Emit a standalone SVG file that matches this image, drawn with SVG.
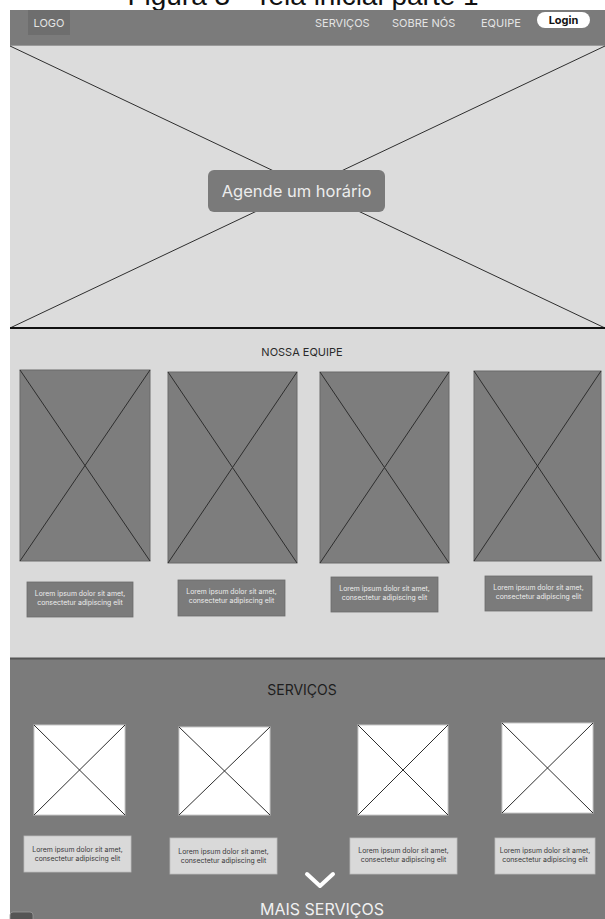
<svg xmlns="http://www.w3.org/2000/svg" width="605" height="919" viewBox="0 0 605 919">
  <style>
    .ui { font-family: Inter, "Liberation Sans", Arial, sans-serif; }
    .nav { fill: #e4e4e4; font-size: 11px; }
    .card { fill: #7d7d7d; stroke: #6a6a6a; stroke-width: 1; }
    .xline { stroke: #2e2e2e; stroke-width: 1; }
    .pic { fill: #ffffff; stroke: #c8c8c8; stroke-width: 1; }
    .cap-dark { fill: #7b7b7b; stroke: #6c6c6c; stroke-width: 0.8; }
    .cap-light { fill: #d9d9d9; stroke: #bdbdbd; stroke-width: 0.8; }
    .cap-txt { font-size: 6.9px; text-anchor: middle; }
  </style>

  <rect x="0" y="0" width="605" height="919" fill="#ffffff"/>

  <!-- page caption, running off the top edge -->
  <text x="303" y="5" font-family="'Liberation Sans', Arial, sans-serif" font-size="28" fill="#111" text-anchor="middle">Figura 3 - Tela inicial parte 1</text>

  <!-- navigation bar -->
  <g id="navbar" class="ui">
    <rect x="10" y="10" width="595" height="36" fill="#7b7b7b"/>
    <rect x="10" y="45" width="595" height="1.5" fill="#9a9a9a"/>
    <rect x="28" y="10" width="42" height="25" fill="#6e6e6e"/>
    <text x="49" y="27" class="nav" text-anchor="middle">LOGO</text>
    <text x="315" y="27" class="nav">SERVIÇOS</text>
    <text x="392" y="27" class="nav">SOBRE NÓS</text>
    <text x="481" y="27" class="nav">EQUIPE</text>
    <rect x="537" y="12" width="53" height="16" rx="8" fill="#ffffff"/>
    <text x="563.5" y="24" font-size="11" font-weight="700" fill="#111" text-anchor="middle">Login</text>
  </g>

  <!-- hero banner -->
  <g id="hero" class="ui">
    <rect x="10" y="46" width="595" height="282" fill="#dcdcdc"/>
    <line x1="10" y1="46" x2="605" y2="328" class="xline"/>
    <line x1="10" y1="328" x2="605" y2="46" class="xline"/>
    <rect x="10" y="327" width="595" height="2" fill="#111"/>
    <g id="btn-agendar">
      <rect x="208" y="170" width="177" height="42" rx="6" fill="#7a7a7a"/>
      <text x="296.5" y="197" font-size="16.5" fill="#ececec" text-anchor="middle">Agende um horário</text>
    </g>
  </g>

  <!-- team section -->
  <g id="equipe" class="ui">
    <rect x="10" y="329" width="595" height="329" fill="#dadada"/>
    <text x="302" y="356" font-size="11" fill="#2a2a2a" text-anchor="middle">NOSSA EQUIPE</text>

    <g id="membro-1">
      <rect x="20" y="370" width="130" height="191" class="card"/>
      <line x1="20" y1="370" x2="150" y2="561" class="xline"/>
      <line x1="20" y1="561" x2="150" y2="370" class="xline"/>
      <rect x="27" y="582" width="106" height="35" class="cap-dark"/>
      <text class="cap-txt" fill="#ececec"><tspan x="80" y="596">Lorem ipsum dolor sit amet,</tspan><tspan x="80" y="605">consectetur adipiscing elit</tspan></text>
    </g>
    <g id="membro-2">
      <rect x="168" y="372" width="129" height="191" class="card"/>
      <line x1="168" y1="372" x2="297" y2="563" class="xline"/>
      <line x1="168" y1="563" x2="297" y2="372" class="xline"/>
      <rect x="178" y="580" width="107" height="36" class="cap-dark"/>
      <text class="cap-txt" fill="#ececec"><tspan x="231.5" y="594">Lorem ipsum dolor sit amet,</tspan><tspan x="231.5" y="603">consectetur adipiscing elit</tspan></text>
    </g>
    <g id="membro-3">
      <rect x="320" y="372" width="129" height="191" class="card"/>
      <line x1="320" y1="372" x2="449" y2="563" class="xline"/>
      <line x1="320" y1="563" x2="449" y2="372" class="xline"/>
      <rect x="331" y="577" width="107" height="35" class="cap-dark"/>
      <text class="cap-txt" fill="#ececec"><tspan x="384.5" y="591">Lorem ipsum dolor sit amet,</tspan><tspan x="384.5" y="600">consectetur adipiscing elit</tspan></text>
    </g>
    <g id="membro-4">
      <rect x="474" y="371" width="127" height="190" class="card"/>
      <line x1="474" y1="371" x2="601" y2="561" class="xline"/>
      <line x1="474" y1="561" x2="601" y2="371" class="xline"/>
      <rect x="485" y="576" width="107" height="35" class="cap-dark"/>
      <text class="cap-txt" fill="#ececec"><tspan x="538.5" y="590">Lorem ipsum dolor sit amet,</tspan><tspan x="538.5" y="599">consectetur adipiscing elit</tspan></text>
    </g>
  </g>

  <!-- services section -->
  <g id="servicos" class="ui">
    <rect x="10" y="658" width="595" height="261" fill="#7b7b7b"/>
    <rect x="10" y="657.5" width="595" height="2" fill="#555555"/>
    <text x="302" y="695" font-size="14" fill="#1e1e1e" text-anchor="middle">SERVIÇOS</text>

    <g id="servico-1">
      <rect x="34" y="725" width="91" height="90" class="pic"/>
      <line x1="34" y1="725" x2="125" y2="815" class="xline"/>
      <line x1="34" y1="815" x2="125" y2="725" class="xline"/>
      <rect x="24" y="836" width="107" height="36" class="cap-light"/>
      <text class="cap-txt" fill="#3a3a3a"><tspan x="77.5" y="852">Lorem ipsum dolor sit amet,</tspan><tspan x="77.5" y="861">consectetur adipiscing elit</tspan></text>
    </g>
    <g id="servico-2">
      <rect x="179" y="727" width="91" height="88" class="pic"/>
      <line x1="179" y1="727" x2="270" y2="815" class="xline"/>
      <line x1="179" y1="815" x2="270" y2="727" class="xline"/>
      <rect x="170" y="838" width="107" height="36" class="cap-light"/>
      <text class="cap-txt" fill="#3a3a3a"><tspan x="223.5" y="854">Lorem ipsum dolor sit amet,</tspan><tspan x="223.5" y="863">consectetur adipiscing elit</tspan></text>
    </g>
    <g id="servico-3">
      <rect x="358" y="725" width="90" height="90" class="pic"/>
      <line x1="358" y1="725" x2="448" y2="815" class="xline"/>
      <line x1="358" y1="815" x2="448" y2="725" class="xline"/>
      <rect x="350" y="838" width="107" height="36" class="cap-light"/>
      <text class="cap-txt" fill="#3a3a3a"><tspan x="403.5" y="853">Lorem ipsum dolor sit amet,</tspan><tspan x="403.5" y="862">consectetur adipiscing elit</tspan></text>
    </g>
    <g id="servico-4">
      <rect x="502" y="723" width="91" height="90" class="pic"/>
      <line x1="502" y1="723" x2="593" y2="813" class="xline"/>
      <line x1="502" y1="813" x2="593" y2="723" class="xline"/>
      <rect x="495" y="838" width="100" height="36" class="cap-light"/>
      <text class="cap-txt" fill="#3a3a3a"><tspan x="545" y="853">Lorem ipsum dolor sit amet,</tspan><tspan x="545" y="862">consectetur adipiscing elit</tspan></text>
    </g>

    <g id="mais-servicos">
      <polyline points="307,874 320,886 333,874" fill="none" stroke="#ffffff" stroke-width="4" stroke-linecap="round" stroke-linejoin="round"/>
      <text x="322" y="915" font-size="16" fill="#f0f0f0" text-anchor="middle">MAIS SERVIÇOS</text>
    </g>
  </g>

  <!-- partly visible control in the bottom-left corner -->
  <rect x="10" y="912" width="23" height="14" rx="3" fill="#555555" stroke="#9a9a9a" stroke-width="0.8"/>
</svg>
